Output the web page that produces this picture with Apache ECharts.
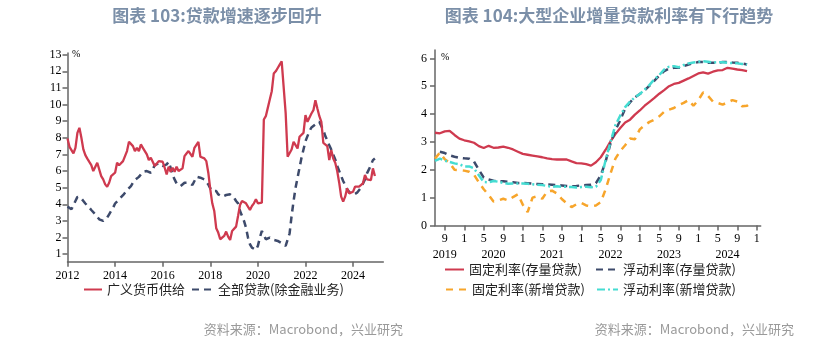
<!DOCTYPE html>
<html><head><meta charset="utf-8">
<script src="https://cdn.jsdelivr.net/npm/echarts@6/dist/echarts.min.js"></script>
<style>html,body{margin:0;padding:0;background:#fff}#c{width:837px;height:343px}</style>
</head><body><div id="c"></div><script>
// ---------- Left chart data (monthly, Jan 2012 .. Dec 2024) ----------
const leftStartYear = 2012;
const leftNames = ['广义货币供给', '全部贷款(除金融业务)'];
const broadMoney = [
  7.96,7.46,7.36,7.06,7.4,8.3,8.6,8.0,7.3,6.96,6.75,6.55,
  6.36,6.0,6.0,6.5,6.6,5.7,5.5,5.2,5.06,5.3,5.7,5.8,
  5.9,6.5,6.35,6.4,6.6,6.9,7.2,7.76,7.66,7.5,7.2,7.4,
  7.2,7.6,7.4,7.36,7.0,6.66,6.8,6.9,6.3,6.3,6.6,6.5,
  6.56,6.2,5.8,6.26,5.96,6.2,5.96,6.26,6.0,6.0,6.16,6.9,
  7.06,7.2,7.2,6.86,7.4,7.5,7.76,6.86,6.8,6.76,6.6,5.9,
  4.9,4.06,3.6,2.56,2.3,1.9,1.8,2.1,2.36,2.06,1.86,2.4,
  2.46,2.66,3.3,3.96,4.2,4.1,4.06,4.0,3.66,3.9,4.06,4.3,
  4.06,4.0,4.1,9.1,9.3,9.8,10.3,10.8,11.86,12.0,12.2,12.4,
  12.6,12.5,9.5,6.86,6.76,7.3,7.76,7.86,7.36,8.06,8.16,8.3,
  9.36,8.96,8.86,9.46,9.66,10.26,9.76,9.3,8.96,7.7,7.6,7.5,
  6.66,7.26,6.76,6.5,6.0,5.3,4.46,4.16,4.46,4.96,4.66,4.76,
  4.76,5.06,5.06,5.06,5.06,5.26,5.76,5.5,5.46,5.46,6.16,5.7
];
const totalLoans = [
  3.86,3.75,3.7,3.95,4.2,4.45,4.5,4.35,4.2,4.05,3.95,3.8,
  3.66,3.55,3.4,3.25,3.1,2.98,3.0,3.1,3.2,3.4,3.6,3.8,
  4.05,4.15,4.3,4.4,4.55,4.7,4.85,4.96,5.1,5.3,5.46,5.55,
  5.65,5.8,5.95,6.06,6.0,5.9,5.9,6.1,6.36,6.4,6.46,6.4,
  6.3,6.26,6.4,6.56,6.2,5.76,5.5,5.26,5.16,5.1,5.2,5.3,
  5.36,5.3,5.2,5.16,5.4,5.66,5.7,5.6,5.55,5.5,5.46,5.2,
  4.96,4.8,4.75,4.8,4.6,4.5,4.46,4.5,4.56,4.66,4.6,4.55,
  4.4,4.2,4.06,3.6,3.3,3.0,2.6,2.0,1.6,1.4,1.3,1.26,
  1.5,2.0,2.4,2.4,1.9,1.9,2.0,1.96,1.86,1.86,1.8,1.76,
  1.66,1.56,1.5,1.46,2.26,3.3,4.2,5.0,5.6,6.2,6.8,7.3,
  7.8,8.1,8.4,8.62,8.7,8.8,8.9,8.96,8.9,8.46,8.1,7.86,
  7.55,7.3,7.0,6.7,6.3,6.0,5.7,5.4,5.16,4.9,4.75,4.65,
  4.56,4.6,4.7,4.8,5.0,5.26,5.5,5.86,6.1,6.36,6.66,6.76
];
const leftYTicks = [1,2,3,4,5,6,7,8,9,10,11,12,13];
const leftXTicks = [2012,2014,2016,2018,2020,2022,2024];

// ---------- Right chart data (monthly, index = months since Jan 2019) ----------
const rightNames = ['固定利率(存量贷款)','浮动利率(存量贷款)','固定利率(新增贷款)','浮动利率(新增贷款)'];
const fixedStockStart = 6;
const fixedStock = [3.33,3.31,3.38,3.4,3.25,3.12,3.06,3.02,2.97,2.85,2.78,2.86,2.79,2.8,2.83,2.79,2.73,2.65,2.57,2.54,2.51,2.48,2.45,2.41,2.38,2.37,2.37,2.37,2.3,2.24,2.23,2.2,2.15,2.27,2.45,2.72,3.02,3.28,3.5,3.7,3.8,3.98,4.13,4.3,4.44,4.58,4.73,4.86,5.0,5.08,5.12,5.2,5.28,5.37,5.46,5.5,5.45,5.52,5.57,5.58,5.66,5.63,5.6,5.58,5.54];
const floatStockStart = 7;
const floatStock = [2.65,2.6,2.52,2.47,2.43,2.41,2.4,2.3,2.0,1.72,1.65,1.61,1.59,1.59,1.57,1.55,1.53,1.53,1.52,1.5,1.49,1.48,1.47,1.46,1.45,1.44,1.42,1.41,1.42,1.44,1.45,1.46,1.52,1.8,2.3,2.95,3.42,3.78,4.2,4.42,4.6,4.72,4.85,5.02,5.2,5.38,5.54,5.63,5.66,5.66,5.72,5.78,5.82,5.87,5.87,5.84,5.84,5.84,5.87,5.87,5.85,5.84,5.82,5.78];
const fixedNewStart = 6;
const fixedNew = [2.4,2.62,2.38,2.25,2.0,1.99,1.97,1.93,1.82,1.55,1.3,1.1,0.86,0.9,0.96,0.9,1.02,1.12,0.75,0.48,1.0,1.05,0.96,1.22,1.25,1.15,0.95,0.8,0.66,0.76,0.81,0.72,0.69,0.72,0.84,1.3,1.87,2.4,2.68,2.88,3.12,3.1,3.45,3.6,3.72,3.8,3.92,4.08,4.16,4.22,4.32,4.4,4.5,4.3,4.5,4.78,4.65,4.45,4.4,4.34,4.42,4.5,4.45,4.28,4.3,4.45];
const floatNewStart = 6;
const floatNew = [2.32,2.4,2.33,2.28,2.23,2.2,2.12,2.12,2.05,1.8,1.56,1.55,1.6,1.57,1.53,1.5,1.51,1.51,1.51,1.5,1.48,1.46,1.45,1.42,1.39,1.41,1.39,1.39,1.38,1.36,1.38,1.39,1.37,1.39,1.63,2.35,3.0,3.6,3.95,4.25,4.45,4.6,4.72,4.88,5.05,5.25,5.4,5.6,5.7,5.72,5.68,5.76,5.82,5.85,5.88,5.9,5.88,5.85,5.86,5.86,5.84,5.83,5.82,5.8,5.78];
const rightYTicks = [0,1,2,3,4,5,6];
const rightMonthTicks = [8,12,16,20,24,28,32,36,40,44,48,52,56,60,64,68,72];
const rightYearPos = [8,18,30,42,54,66];
const rightYearLabels = ['2019','2020','2021','2022','2023','2024'];

// ---------- build ----------
const leftPairs = arr => arr.map((v,i) => [leftStartYear + i/12, v]);
const rightPairs = (arr,start) => arr.map((v,i) => [start + i, v]);

const AX = '#666';
const serif = 'Liberation Serif';
const cjk = 'Noto Sans CJK SC';
const C_RED = '#cf3a4f', C_NAVY = '#3d4a6b', C_ORANGE = '#f7a52b', C_CYAN = '#45dcd2';

function baseAxis(extra) {
  return Object.assign({
    type: 'value',
    splitLine: {show: false},
    axisLine: {show: true, onZero: false, lineStyle: {color: AX, width: 1.5}},
  }, extra);
}

const option = {
  animation: false,
  grid: [
    {left: 67.5, top: 53, width: 315.8, height: 208.7},
    {left: 435, top: 50, width: 325.7, height: 175.5}
  ],
  xAxis: [
    baseAxis({gridIndex: 0, min: 2012, max: 2025.27,
      axisTick: {show: true, customValues: leftXTicks, length: 5, lineStyle: {color: AX, width: 1.5}},
      axisLabel: {customValues: leftXTicks, formatter: v => String(Math.round(v)), fontFamily: serif, fontSize: 12, color: '#000', margin: 8}
    }),
    baseAxis({gridIndex: 1, min: 6, max: 72.8,
      axisTick: {show: true, customValues: rightMonthTicks, length: 5, lineStyle: {color: AX, width: 1.5}},
      axisLabel: {customValues: rightMonthTicks, formatter: v => String((Math.round(v) % 12) + 1), fontFamily: serif, fontSize: 12, color: '#000', margin: 7}
    }),
    baseAxis({gridIndex: 1, min: 6, max: 72.8, position: 'bottom', offset: 16,
      axisLine: {show: false}, axisTick: {show: false},
      axisLabel: {customValues: rightYearPos, formatter: v => rightYearLabels[rightYearPos.indexOf(Math.round(v))] || '', fontFamily: serif, fontSize: 12, color: '#000', margin: 7}
    })
  ],
  yAxis: [
    baseAxis({gridIndex: 0, min: 0.55, max: 13.1,
      axisTick: {show: true, customValues: leftYTicks, length: 5, lineStyle: {color: AX, width: 1.5}},
      axisLabel: {customValues: leftYTicks, fontFamily: serif, fontSize: 12, color: '#000', margin: 6}
    }),
    baseAxis({gridIndex: 1, min: 0, max: 6.3,
      axisTick: {show: true, customValues: rightYTicks, length: 5, lineStyle: {color: AX, width: 1.5}},
      axisLabel: {customValues: rightYTicks, fontFamily: serif, fontSize: 12, color: '#000', margin: 8}
    })
  ],
  legend: [
    {data: [leftNames[0]], left: 83, top: 283, itemWidth: 18, itemHeight: 12},
    {data: [leftNames[1]], left: 191, top: 283, itemWidth: 21, itemHeight: 12},
    {data: [rightNames[0]], left: 444, top: 263, itemWidth: 19, itemHeight: 12},
    {data: [rightNames[1]], left: 595, top: 263, itemWidth: 22, itemHeight: 12},
    {data: [rightNames[2]], left: 445, top: 283, itemWidth: 21, itemHeight: 12},
    {data: [rightNames[3]], left: 596, top: 283, itemWidth: 21, itemHeight: 12}
  ].map(l => Object.assign({
    textStyle: {fontFamily: cjk, fontSize: 13, color: '#222'}, padding: 0, itemGap: 0,
    itemStyle: {opacity: 0, borderWidth: 0}
  }, l)),
  series: [
    {name: leftNames[0], type: 'line', xAxisIndex: 0, yAxisIndex: 0, showSymbol: false, symbol: 'none',
      data: leftPairs(broadMoney), lineStyle: {color: C_RED, width: 2.3}, itemStyle: {color: C_RED}, z: 3},
    {name: leftNames[1], type: 'line', xAxisIndex: 0, yAxisIndex: 0, showSymbol: false, symbol: 'none',
      data: leftPairs(totalLoans), lineStyle: {color: C_NAVY, width: 2.5, type: [7, 5]}, itemStyle: {color: C_NAVY}, z: 2},
    {name: rightNames[0], type: 'line', xAxisIndex: 1, yAxisIndex: 1, showSymbol: false, symbol: 'none',
      data: rightPairs(fixedStock, fixedStockStart), lineStyle: {color: C_RED, width: 2.3}, itemStyle: {color: C_RED}},
    {name: rightNames[1], type: 'line', xAxisIndex: 1, yAxisIndex: 1, showSymbol: false, symbol: 'none',
      data: rightPairs(floatStock, floatStockStart), lineStyle: {color: C_NAVY, width: 2.5, type: [7, 5]}, itemStyle: {color: C_NAVY}},
    {name: rightNames[2], type: 'line', xAxisIndex: 1, yAxisIndex: 1, showSymbol: false, symbol: 'none',
      data: rightPairs(fixedNew, fixedNewStart), lineStyle: {color: C_ORANGE, width: 2.5, type: [7, 6]}, itemStyle: {color: C_ORANGE}},
    {name: rightNames[3], type: 'line', xAxisIndex: 1, yAxisIndex: 1, showSymbol: false, symbol: 'none',
      data: rightPairs(floatNew, floatNewStart), lineStyle: {color: C_CYAN, width: 2.5, type: [8, 3, 2, 3]}, itemStyle: {color: C_CYAN}}
  ],
  graphic: [
    {type: 'text', x: 217, y: 16, style: {text: '图表 103:贷款增速逐步回升', align: 'center', verticalAlign: 'middle', font: 'bold 17px "Noto Sans CJK SC"', fill: '#7b8fa8'}},
    {type: 'text', x: 609, y: 16, style: {text: '图表 104:大型企业增量贷款利率有下行趋势', align: 'center', verticalAlign: 'middle', font: 'bold 17px "Noto Sans CJK SC"', fill: '#7b8fa8'}},
    {type: 'text', x: 72, y: 54, style: {text: '%', align: 'left', verticalAlign: 'middle', font: '10px "Liberation Serif"', fill: '#000'}},
    {type: 'text', x: 441, y: 57, style: {text: '%', align: 'left', verticalAlign: 'middle', font: '10px "Liberation Serif"', fill: '#000'}},
    {type: 'text', x: 403, y: 329, style: {text: '资料来源：Macrobond，兴业研究', align: 'right', verticalAlign: 'middle', font: '13px "Noto Sans CJK SC"', fill: '#9a9a9a'}},
    {type: 'text', x: 794, y: 329, style: {text: '资料来源：Macrobond，兴业研究', align: 'right', verticalAlign: 'middle', font: '13px "Noto Sans CJK SC"', fill: '#9a9a9a'}}
  ]
};
const chart = echarts.init(document.getElementById('c'), null, {renderer: 'canvas'});
chart.setOption(option);
</script></body></html>
